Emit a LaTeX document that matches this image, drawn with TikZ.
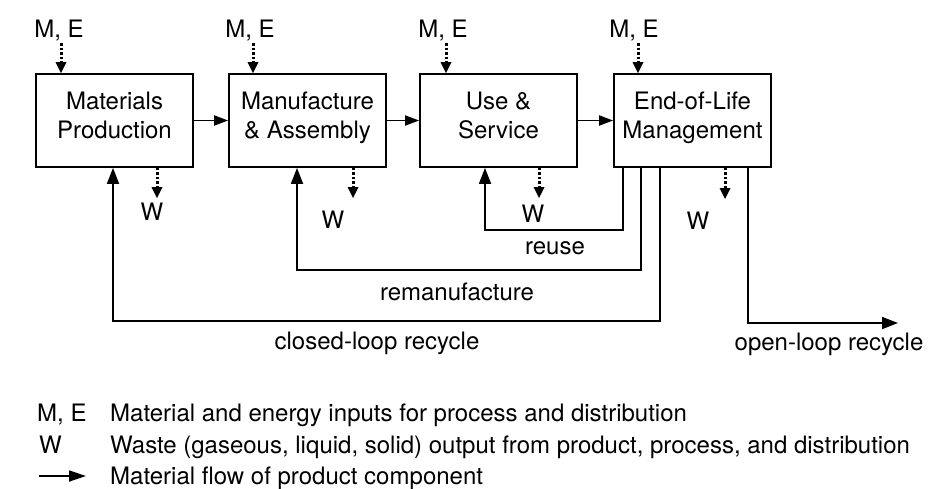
\documentclass[tikz,border=0pt]{standalone}
\usepackage{fontspec}
\setmainfont{TeX Gyre Heros}
\usetikzlibrary{arrows.meta}
\begin{document}
\begin{tikzpicture}[x=1pt,y=-1pt,
  every node/.style={inner sep=0pt,font=\fontsize{24}{29}\selectfont},
  procbox/.style={draw,line width=1.8pt,minimum width=157pt,minimum height=93pt,align=center,text depth=10pt},
  flow/.style={line width=1.8pt,-{Triangle[length=14pt,width=10pt]}},
  backflow/.style={line width=1.8pt,-{Triangle[length=16pt,width=12pt]}},
  dotflow/.style={line width=3pt,dash pattern=on 2.5pt off 2pt,-{Triangle[length=11pt,width=11pt,line width=0pt]}},
  lab/.style={anchor=base}
]
\useasboundingbox (0,0) rectangle (942,488);
% boxes
\node[procbox] (b1) at (114.5,120.5) {Materials\\Production};
\node[procbox] (b2) at (307.5,120.5) {Manufacture\\\& Assembly};
\node[procbox] (b3) at (498.5,120.5) {Use \&\\Service};
\node[procbox] (b4) at (692.5,120.5) {End-of-Life\\Management};
% forward flows
\draw[flow] (b1) -- (b2);
\draw[flow] (b2) -- (b3);
\draw[flow] (b3) -- (b4);
% M,E inputs
\node[lab] (me1) at (59,37) {M, E};
\node[lab] (me2) at (250,37) {M, E};
\node[lab] (me3) at (443,37) {M, E};
\node[lab] (me4) at (634,37) {M, E};
\coordinate (a1) at (61,43);
\coordinate (a2) at (253,43);
\coordinate (a3) at (446,43);
\coordinate (a4) at (638,43);
\draw[dotflow] (a1) -- (b1.north -| a1);
\draw[dotflow] (a2) -- (b2.north -| a2);
\draw[dotflow] (a3) -- (b3.north -| a3);
\draw[dotflow] (a4) -- (b4.north -| a4);
% W outputs
\coordinate (w1e) at (157,198);
\coordinate (w2e) at (353,198);
\coordinate (w3e) at (539,198);
\coordinate (w4e) at (725,199);
\draw[dotflow] (b1.south -| w1e) -- (w1e);
\draw[dotflow] (b2.south -| w2e) -- (w2e);
\draw[dotflow] (b3.south -| w3e) -- (w3e);
\draw[dotflow] (b4.south -| w4e) -- (w4e);
\node[lab] (w1) at (152,220) {W};
\node[lab] (w2) at (333,228) {W};
\node[lab] (w3) at (533,222) {W};
\node[lab] (w4) at (698,229) {W};
% feedback loops
\coordinate (ru4) at (623,0);
\coordinate (ru3) at (485,0);
\coordinate (rm4) at (641,0);
\coordinate (rm2) at (297,0);
\coordinate (cl4) at (660,0);
\coordinate (cl1) at (113,0);
\coordinate (ol4) at (748,0);
\coordinate (olend) at (898,323);
\draw[backflow] (b4.south -| ru4) -- ++(0,62) -| (b3.south -| ru3);
\draw[backflow] (b4.south -| rm4) -- ++(0,102) -| (b2.south -| rm2);
\draw[backflow] (b4.south -| cl4) -- ++(0,153) -| (b1.south -| cl1);
\draw[backflow] (b4.south -| ol4) |- (olend);
\node[lab] (lreuse) at (555,254) {reuse};
\node[lab] (lreman) at (457,300) {remanufacture};
\node[lab] (lclosed) at (377,349) {closed-loop recycle};
\node[lab] (lopen) at (829,350) {open-loop recycle};
% legend
\node[anchor=base west] (lme) at (37,421) {M, E};
\node[anchor=base west] (lmet) at (110,421) {Material and energy inputs for process and distribution};
\node[anchor=base west] (lw) at (39,453) {W};
\node[anchor=base west] (lwt) at (110,453) {Waste (gaseous, liquid, solid) output from product, process, and distribution};
\coordinate (la1) at (39,476);
\coordinate (la2) at (86,476);
\draw[line width=1.8pt,-{Triangle[length=17pt,width=11pt]}] (la1) -- (la2);
\node[anchor=base west] (lft) at (110,484) {Material flow of product component};
\end{tikzpicture}
\end{document}
